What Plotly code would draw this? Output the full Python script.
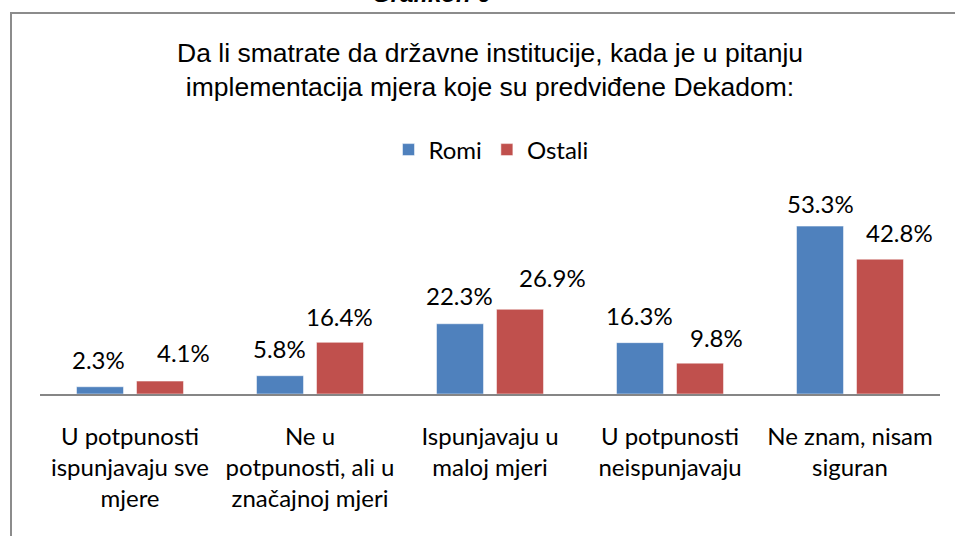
import plotly.graph_objects as go

categories = [
    "U potpunosti<br>ispunjavaju sve<br>mjere",
    "Ne u<br>potpunosti, ali u<br>značajnoj mjeri",
    "Ispunjavaju u<br>maloj mjeri",
    "U potpunosti<br>neispunjavaju",
    "Ne znam, nisam<br>siguran",
]
romi = [2.3, 5.8, 22.3, 16.3, 53.3]
ostali = [4.1, 16.4, 26.9, 9.8, 42.8]
series_names = ["Romi", "Ostali"]
colors = ["#4F81BD", "#C0504D"]

# manual data-label offsets (pixels) as placed in the original chart
romi_label_dx = [-2, -1, -1, -1, 0]
romi_label_dy = [27, 27, 28, 27, 23]
ostali_label_dx = [23, -1, 32, 16, 19]
ostali_label_dy = [29, 26, 32, 26, 27]

W, H = 955, 536
ML, MR, MT, MB = 40, 15, 205, 142
PW = W - ML - MR
PH = H - MT - MB

def px_x(x):
    return (x - ML) / PW

def px_y(y):
    return (H - MB - y) / PH

label_font = dict(family="Lato, Open Sans, sans-serif", size=24, color="#000000")

fig = go.Figure()
for name, vals, col in zip(series_names, [romi, ostali], colors):
    fig.add_trace(go.Bar(
        name=name, x=categories, y=vals,
        marker=dict(color=col, line=dict(color="white", width=0.5)),
    ))

ann = []
for vals, shift, dxs, dys in [(romi, -30, romi_label_dx, romi_label_dy),
                              (ostali, 30, ostali_label_dx, ostali_label_dy)]:
    for c, v, dx, dy in zip(categories, vals, dxs, dys):
        ann.append(dict(x=c, y=v, xref="x", yref="y", text=f"{v:.1f}%",
                        showarrow=False, xshift=shift + dx, yanchor="middle", yshift=dy,
                        font=label_font))

ann.append(dict(xref="paper", yref="paper", x=0.5, y=px_y(70), yanchor="middle",
                text="Da li smatrate da državne institucije, kada je u pitanju<br>implementacija mjera koje su predviđene Dekadom:",
                showarrow=False,
                font=dict(family="Liberation Sans Narrow, Arial Narrow, Liberation Sans, sans-serif", size=26.5, color="#000000")))
ann.append(dict(xref="paper", yref="paper", x=px_x(431.5), y=px_y(9), yanchor="bottom",
                text="<b><i>Grafikon 6</i></b>", showarrow=False,
                font=dict(family="Liberation Sans, Arial, sans-serif", size=24, color="#000000")))

frame = dict(color="#8C8C8C", width=2)
shapes = [
    dict(type="line", xref="paper", yref="paper",
         x0=px_x(10), x1=px_x(1000), y0=px_y(13), y1=px_y(13), line=frame),
    dict(type="line", xref="paper", yref="paper",
         x0=px_x(11), x1=px_x(11), y0=px_y(12), y1=px_y(600), line=frame),
]

fig.update_layout(
    width=W, height=H,
    margin=dict(l=ML, r=MR, t=MT, b=MB),
    paper_bgcolor="white", plot_bgcolor="white",
    barmode="group", bargap=1/3, bargroupgap=0.217,
    showlegend=True,
    legend=dict(orientation="h", x=px_x(491), xanchor="center", y=px_y(150), yanchor="middle",
                font=label_font, itemclick=False, traceorder="normal"),
    annotations=ann, shapes=shapes,
    xaxis=dict(showline=True, linecolor="#868686", linewidth=2, ticks="",
               tickfont=label_font, ticklabelstandoff=20, fixedrange=True),
    yaxis=dict(range=[0, 60], visible=False, showgrid=False, zeroline=False, fixedrange=True),
    font=label_font,
)

fig.write_html(
    "out.html",
    config={"displayModeBar": False},
    post_script="document.body.style.margin='0';document.body.style.overflow='hidden';",
)
